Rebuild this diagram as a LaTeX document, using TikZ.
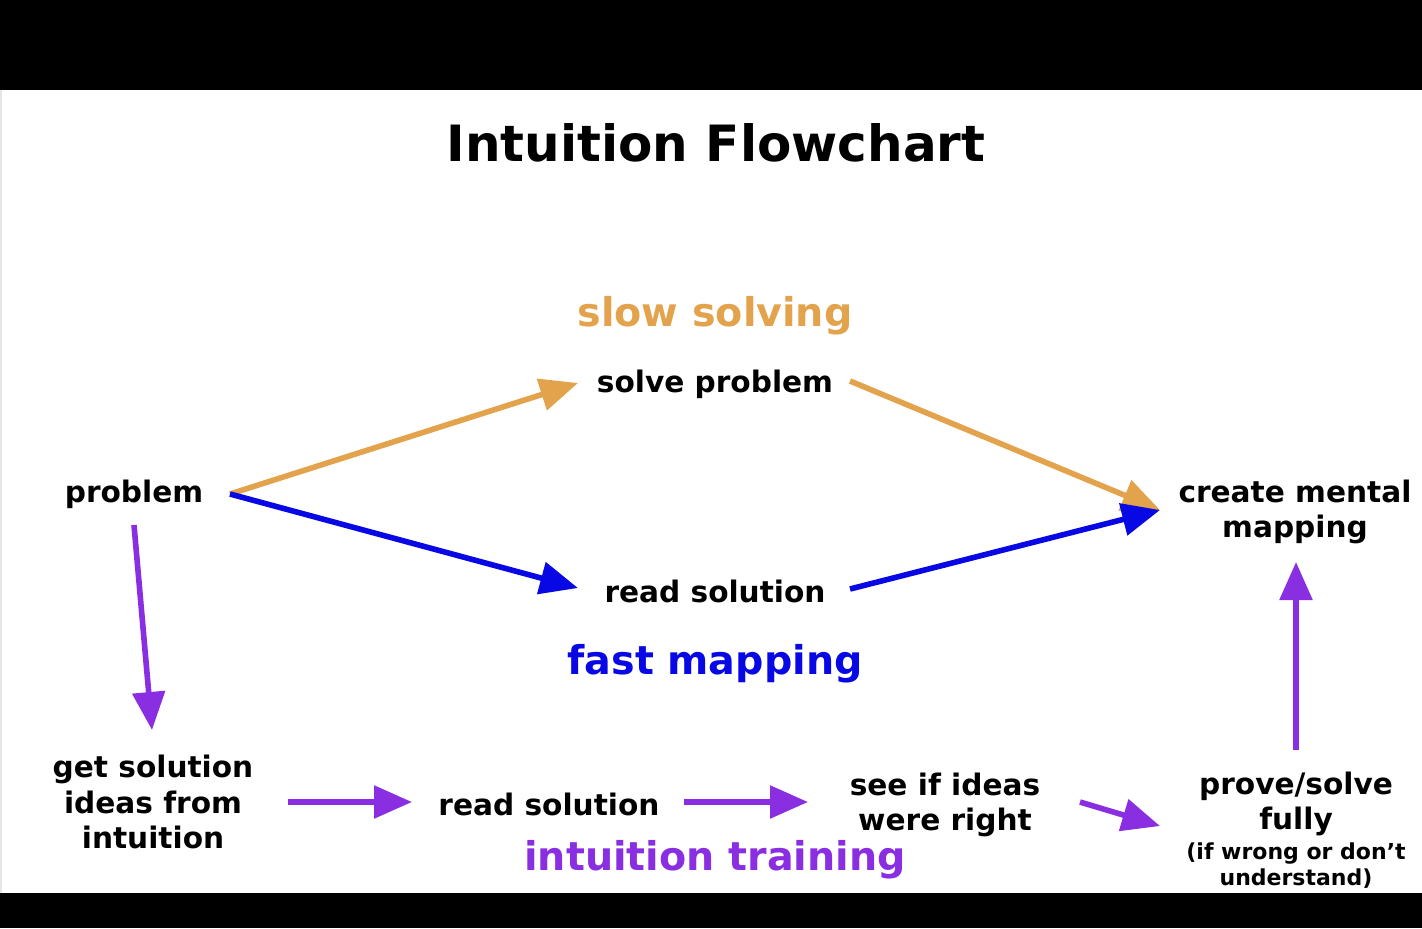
\documentclass[tikz,border=0pt]{standalone}
\usepackage{fontspec}
\setmainfont{DejaVu Sans}
\usetikzlibrary{arrows.meta,calc}
\definecolor{slowc}{RGB}{227,163,76}
\definecolor{fastc}{RGB}{8,8,228}
\definecolor{intc}{RGB}{138,46,226}
\begin{document}
\begin{tikzpicture}[x=0.5pt,y=-0.5pt,
  txt/.style={font=\bfseries\fontsize{14.8}{17.9}\selectfont, align=center, inner sep=0pt},
  small/.style={font=\bfseries\fontsize{11}{13}\selectfont, align=center, inner sep=0pt},
  big/.style={font=\bfseries\fontsize{19.8}{24}\selectfont, inner sep=0pt},
  arr/.style={line width=2.8pt, -{Triangle[length=19pt,width=16pt]}},
]
\useasboundingbox (0,0) rectangle (1422,928);
\fill[white] (0,0) rectangle (1422,928);
\fill[black] (0,0) rectangle (1422,90);
\fill[black] (0,893) rectangle (1422,928);
\fill[black!10] (0,90) rectangle (2,893);

\node[font=\bfseries\fontsize{25}{30}\selectfont, inner sep=0pt] (title) at (716,143) {Intuition Flowchart};
\node[big, text=slowc] (slow) at (715,316) {slow solving};
\node[big, text=fastc] (fast) at (715,664) {fast mapping};
\node[big, text=intc] (train) at (715,860) {intuition training};

\node[txt] (problem) at (134,494) {problem};
\node[txt] (solve) at (715,384) {solve problem};
\node[txt] (read1) at (715,591) {read solution};
\node[txt] (create) at (1295,512) {create mental\\mapping};
\node[txt] (get) at (153,802) {get solution\\ideas from\\intuition};
\node[txt] (read2) at (549,804) {read solution};
\node[txt] (see) at (945,805) {see if ideas\\were right};
\node[txt, label={[small, anchor=north, yshift=-3pt]below:{(if wrong or don’t\\understand)}}] (prove) at (1296,804) {prove/solve\\fully};

\draw[arr, slowc] ($(problem.center)+(96,0)$) -- ($(solve.center)+(-137,-1)$);
\draw[arr, fastc] ($(problem.center)+(96,0)$) -- ($(read1.center)+(-137,-3)$);
\draw[arr, slowc] ($(solve.center)+(135,-3)$) -- ($(create.center)+(-135,-2)$);
\draw[arr, fastc] ($(read1.center)+(135,-2)$) -- ($(create.center)+(-135,-2)$);
\draw[arr, intc] ($(problem.center)+(0,31)$) -- ($(get.center)+(-1,-72)$);
\draw[arr, intc] ($(get.center)+(135,0)$) -- ($(read2.center)+(-137,-2)$);
\draw[arr, intc] ($(read2.center)+(135,-2)$) -- ($(see.center)+(-137,-3)$);
\draw[arr, intc] ($(see.center)+(135,-3)$) -- ($(prove.center)+(-136,22)$);
\draw[arr, intc] ($(prove.center)+(0,-54)$) -- ($(create.center)+(1,50)$);
\end{tikzpicture}
\end{document}
